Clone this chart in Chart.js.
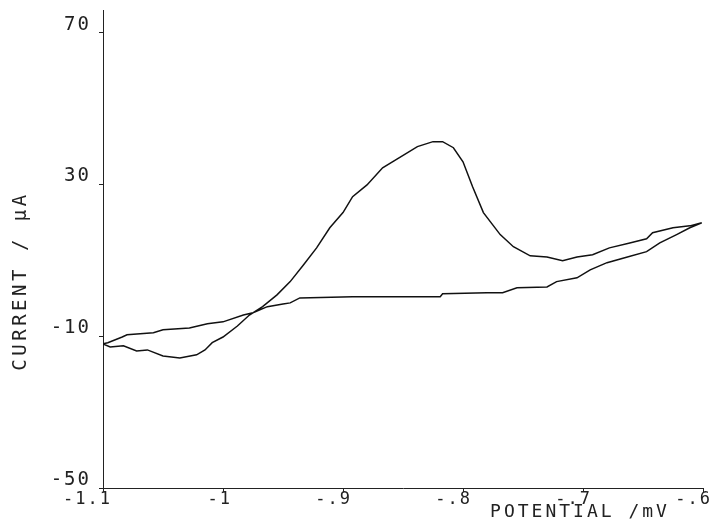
<!DOCTYPE html>
<html>
<head>
<meta charset="utf-8">
<script src="https://cdn.jsdelivr.net/npm/chart.js@4/dist/chart.umd.min.js"></script>
<style>
  html, body { margin: 0; padding: 0; background: #fff; }
  #wrap { width: 716px; height: 531px; }
</style>
</head>
<body>
<div id="wrap"><canvas id="grafico" width="716" height="531"></canvas></div>
<script>
// potential (mV axis as labelled) and current, traced around the loop
var potencial = [
  -0.601, -0.611, -0.622, -0.636, -0.647, -0.663, -0.680, -0.694, -0.705, -0.722,
  -0.730, -0.755, -0.767, -0.780, -0.817, -0.819, -0.861, -0.892, -0.936, -0.944,
  -0.950, -0.963, -0.975, -0.983, -1.000, -1.013, -1.028, -1.050, -1.058, -1.080,
  -1.084, -1.096, -1.100,
  -1.094, -1.083, -1.072, -1.063, -1.050, -1.036, -1.022, -1.015, -1.009, -1.000,
  -0.988, -0.978, -0.967, -0.955, -0.944, -0.933, -0.922, -0.911, -0.900, -0.892,
  -0.880, -0.867, -0.853, -0.838, -0.825, -0.817, -0.808, -0.800, -0.792, -0.783,
  -0.769, -0.758, -0.744, -0.730, -0.717, -0.705, -0.692, -0.678, -0.661, -0.647,
  -0.642, -0.625, -0.611, -0.601
];
var corrente = [
  19.9, 18.6, 16.8, 14.6, 12.3, 10.9, 9.4, 7.5, 5.4, 4.4,
  3.0, 2.8, 1.5, 1.5, 1.2, 0.4, 0.4, 0.4, 0.1, -1.2,
  -1.5, -2.2, -3.8, -4.4, -6.2, -6.7, -7.8, -8.3, -9.1, -9.6,
  -10.2, -11.7, -12.0,
  -12.8, -12.5, -13.9, -13.6, -15.2, -15.7, -14.9, -13.6, -11.7, -10.2,
  -7.3, -4.4, -2.2, 0.9, 4.4, 8.8, 13.3, 18.6, 22.6, 26.8,
  29.9, 34.4, 37.1, 40.0, 41.3, 41.3, 39.7, 36.0, 29.4, 22.6,
  16.8, 13.6, 11.2, 10.9, 9.9, 10.9, 11.5, 13.3, 14.6, 15.7,
  17.3, 18.6, 19.1, 19.9
];
var ticksX = [-1.1, -1, -0.9, -0.8, -0.7, -0.6];
var rotulosX = ["-1.1", "-1", "-.9", "-.8", "-.7", "-.6"];
var ticksY = [-50, -10, 30, 70];

var fonte = "'DejaVu Sans Mono', monospace";
var corTinta = "#222";

function pegarPontos() {
  var pts = [];
  for (var i = 0; i < potencial.length; i++) {
    pts.push({ x: potencial[i], y: corrente[i] });
  }
  return pts;
}

// titles drawn by hand so they sit where the plotter put them
var titulos = {
  id: "titulos",
  beforeDraw: function (chart) {
    chart.ctx.letterSpacing = "2px";
  },
  afterDraw: function (chart) {
    var ctx = chart.ctx;
    ctx.save();
    ctx.fillStyle = corTinta;
    ctx.textAlign = "center";
    ctx.textBaseline = "alphabetic";
    ctx.letterSpacing = "3px";
    ctx.font = "18px " + fonte;
    ctx.fillText("POTENTIAL /mV", 580, 517);
    ctx.letterSpacing = "3.5px";
    ctx.font = "19px " + fonte;
    ctx.translate(26, 281);
    ctx.rotate(-Math.PI / 2);
    ctx.fillText("CURRENT / \u03bcA", 0, 0);
    ctx.restore();
  },
};

const ctx = document.getElementById("grafico").getContext("2d");

const grafico = new Chart(ctx, {
  type: "scatter",
  data: {
    datasets: [
      {
        label: "CV",
        data: pegarPontos(),
        showLine: true,
        borderColor: "#111",
        borderWidth: 1.5,
        pointRadius: 0,
        tension: 0,
      },
    ],
  },
  options: {
    responsive: false,
    animation: false,
    layout: { padding: { top: 10, right: 13, left: 0, bottom: 0 } },
    plugins: {
      legend: { display: false },
      tooltip: { enabled: false },
    },
    scales: {
      x: {
        type: "linear",
        min: -1.1,
        max: -0.6,
        afterFit: function (s) {
          s.height = 43;
          s.paddingLeft = 0;
          s.paddingRight = 0;
        },
        afterBuildTicks: function (s) {
          s.ticks = ticksX.map(function (v) { return { value: v }; });
        },
        border: { display: true, color: corTinta, width: 1 },
        grid: { drawOnChartArea: false, tickLength: 4, color: corTinta },
        ticks: {
          color: corTinta,
          font: { family: fonte, size: 17 },
          padding: -3,
          align: "end",
          labelOffset: 9,
          maxRotation: 0,
          autoSkip: false,
          callback: function (v, i) { return rotulosX[i]; },
        },
      },
      y: {
        type: "linear",
        min: -50,
        max: 76,
        afterFit: function (s) {
          s.width = 103;
          s.paddingTop = 0;
          s.paddingBottom = 0;
        },
        afterBuildTicks: function (s) {
          s.ticks = ticksY.map(function (v) { return { value: v }; });
        },
        border: { display: true, color: corTinta, width: 1 },
        grid: { drawOnChartArea: false, tickLength: 4, color: corTinta },
        ticks: {
          color: corTinta,
          font: { family: fonte, size: 19 },
          padding: 8,
          labelOffset: -8,
          autoSkip: false,
          callback: function (v) { return String(v); },
        },
      },
    },
  },
  plugins: [titulos],
});
</script>
</body>
</html>
